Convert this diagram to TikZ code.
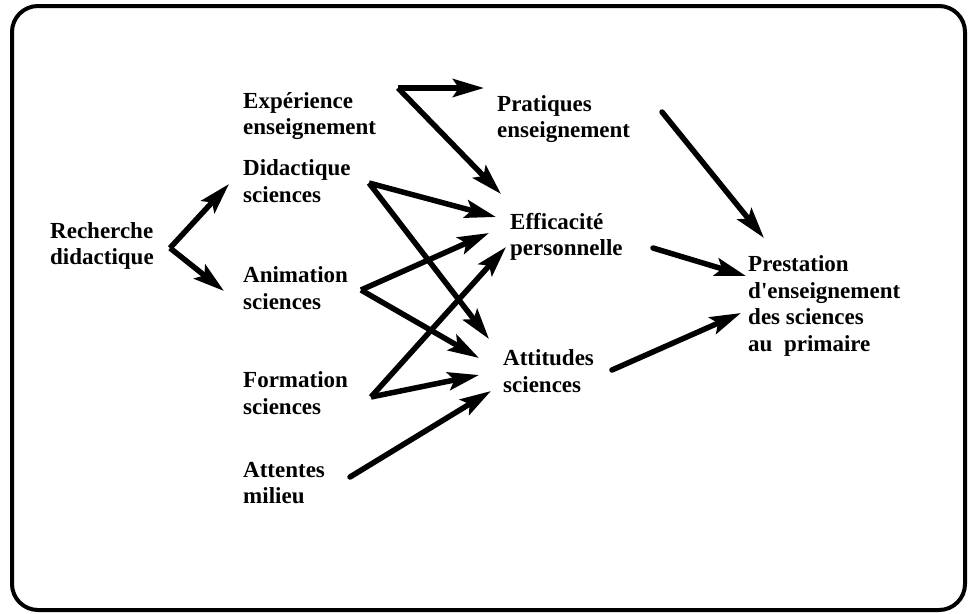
\documentclass[tikz,border=0pt]{standalone}
\usepackage{fontspec}
\setmainfont{Liberation Serif}
\usetikzlibrary{arrows.meta}
\begin{document}
\begin{tikzpicture}[x=1pt,y=-1pt,
  lbl/.style={anchor=west,align=left,inner sep=0pt,font=\fontsize{23}{26.5}\selectfont\bfseries},
  arr/.style={line width=5.5pt,-{Stealth[length=31pt,width=18pt,inset=6pt]}}]
\useasboundingbox (0,0) rectangle (968,613);
\draw[line width=4pt,rounded corners=26pt] (12,6) rectangle (965,610);
% nodes
\node[lbl] (rech) at (50,246) {Recherche\\didactique};
\node[lbl] (exp) at (243,116) {Expérience\\enseignement};
\node[lbl] (prat) at (497,119) {Pratiques\\enseignement};
\node[lbl] (did) at (243,181) {Didactique\\sciences};
\node[lbl] (eff) at (510,237) {Efficacité\\personnelle};
\node[lbl] (anim) at (243,288) {Animation\\sciences};
\node[lbl] (prest) at (748,306) {Prestation\\d\textquotesingle enseignement\\des sciences\\au\ \ primaire};
\node[lbl] (att) at (503,371) {Attitudes\\sciences};
\node[lbl] (form) at (243,393) {Formation\\sciences};
\node[lbl] (attm) at (243,483) {Attentes\\milieu};
% vertices and ends
\coordinate (vR) at (170,248);
\coordinate (rD) at (229,184);
\coordinate (rA) at (224,291);
\coordinate (vE) at (398,88);
\coordinate (eP) at (484,88);
\coordinate (eE) at (501,194);
\coordinate (vD) at (369,183);
\coordinate (dE) at (496,217);
\coordinate (dA) at (489,339);
\coordinate (vA) at (361,290);
\coordinate (aE) at (489,233);
\coordinate (aA) at (479,358);
\coordinate (vF) at (371,397);
\coordinate (fE) at (506,247);
\coordinate (fA) at (479,375);
\coordinate (sM) at (350,477);
\coordinate (mA) at (491,391);
\coordinate (sP) at (662,112);
\coordinate (pP) at (764,238);
\coordinate (sE) at (653,248);
\coordinate (eS) at (746,276);
\coordinate (sA) at (612,370);
\coordinate (aS) at (741,313);
% connectors
\draw[arr] (vR) -- (rD);
\draw[arr] (vR) -- (rA);
\draw[arr] (vE) -- (eP);
\draw[arr] (vE) -- (eE);
\draw[arr] (vD) -- (dE);
\draw[arr] (vD) -- (dA);
\draw[arr] (vA) -- (aE);
\draw[arr] (vA) -- (aA);
\draw[arr] (vF) -- (fE);
\draw[arr] (vF) -- (fA);
\draw[arr,line cap=round] (sM) -- (mA);
\draw[arr,line cap=round] (sP) -- (pP);
\draw[arr,line cap=round] (sE) -- (eS);
\draw[arr,line cap=round] (sA) -- (aS);
\end{tikzpicture}
\end{document}
